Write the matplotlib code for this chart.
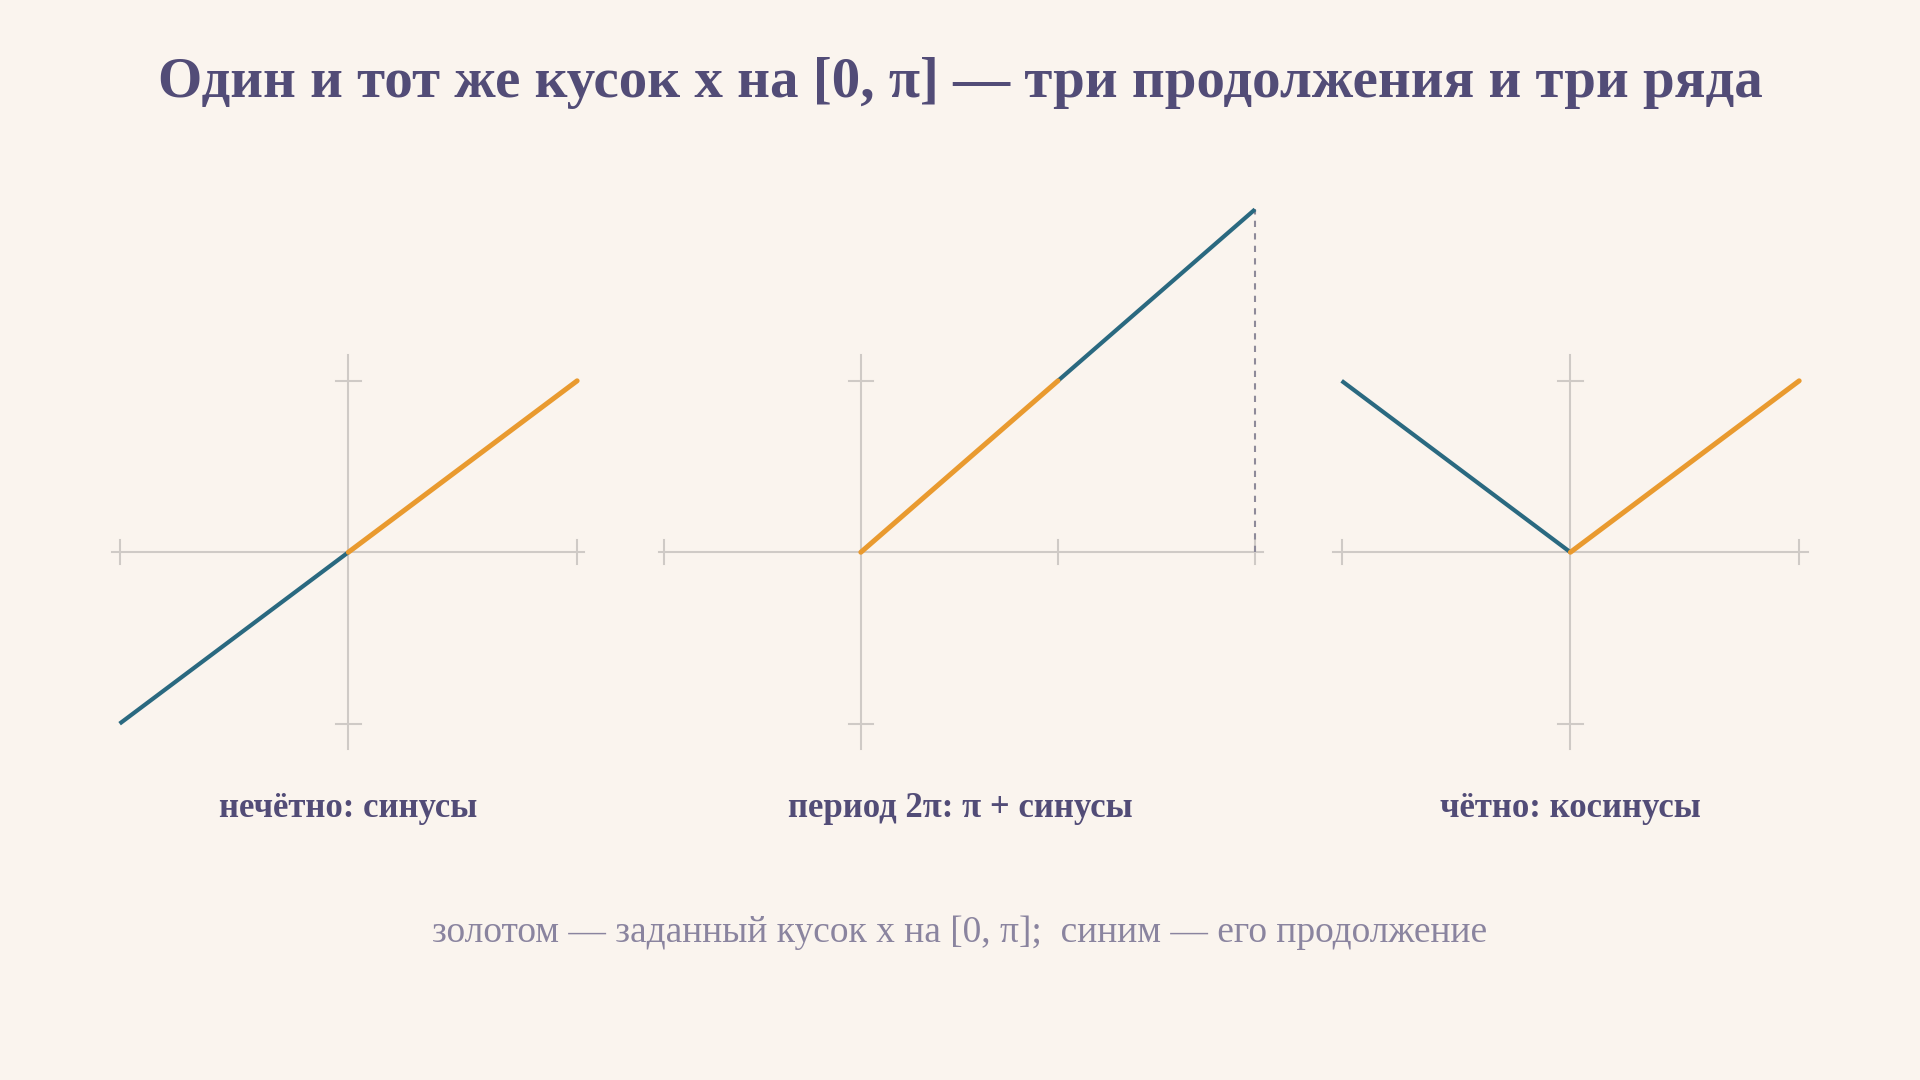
import numpy as np
import matplotlib
matplotlib.use("Agg")
import matplotlib.pyplot as plt

PI = np.pi
title = "Один и тот же кусок x на [0, π] — три продолжения и три ряда"
labels = ["нечётно: синусы", "период 2π: π + синусы", "чётно: косинусы"]
caption = "золотом — заданный кусок x на [0, π];  синим — его продолжение"

# given piece (gold) on [0, pi]
given_x = [0, PI]
given_y = [0, PI]
# extensions (blue)
odd_x = [-PI, 0]; odd_y = [-PI, 0]
per_x = [PI, 2 * PI]; per_y = [PI, 2 * PI]
even_x = [-PI, 0]; even_y = [PI, 0]

BG = "#FAF4EE"; GOLD = "#E99A2F"; BLUE = "#2A6980"; GRAY = "#CFCAC6"; INK = "#524C77"

plt.rcParams['font.family'] = ['Liberation Serif', 'DejaVu Serif']
fig = plt.figure(figsize=(19.2, 10.8), dpi=100, facecolor=BG)

ybot, ytop = -1.2 * PI, 2.1 * PI
axb, axh = 1 - 619 / 882, 462 / 882
panels = [
    dict(pos=[79 / 1568, axb, 411 / 1568, axh], xlim=(-1.1 * PI, 1.1 * PI), xax=(-1.032 * PI, 1.032 * PI),
         xt=[-PI, PI], ext=(odd_x, odd_y), dash=False),
    dict(pos=[526 / 1568, axb, 515 / 1568, axh], xlim=(-1.1 * PI, 2.1 * PI), xax=(-1.025 * PI, 2.04 * PI),
         xt=[-PI, PI, 2 * PI], ext=(per_x, per_y), dash=True),
    dict(pos=[1077 / 1568, axb, 411 / 1568, axh], xlim=(-1.1 * PI, 1.1 * PI), xax=(-1.04 * PI, 1.04 * PI),
         xt=[-PI, PI], ext=(even_x, even_y), dash=False),
]
for p, lab in zip(panels, labels):
    ax = fig.add_axes(p["pos"]); ax.set_axis_off()
    ax.set_xlim(*p["xlim"]); ax.set_ylim(ybot, ytop)
    ax.plot(p["xax"], [0, 0], color=GRAY, lw=1.5, zorder=1)
    ax.plot([0, 0], [-1.15 * PI, 1.15 * PI], color=GRAY, lw=1.5, zorder=1)
    for t in p["xt"]:
        ax.plot([t, t], [-0.07 * PI, 0.07 * PI], color=GRAY, lw=1.5, zorder=1)
    dx = 10 / (p["pos"][2] * 1568) * (p["xlim"][1] - p["xlim"][0])
    for t in [-PI, PI]:
        ax.plot([-dx, dx], [t, t], color=GRAY, lw=1.5, zorder=1)
    if p["dash"]:
        ax.plot([2 * PI, 2 * PI], [0, 2 * PI], color="#8E8A99", lw=1.5, ls=(0, (3, 3)), zorder=2)
    ax.plot(*p["ext"], color=BLUE, lw=3, solid_capstyle="butt", zorder=3)
    ax.plot(given_x, given_y, color=GOLD, lw=3.6, solid_capstyle="round", zorder=4)
    cx = p["pos"][0] + p["pos"][2] * (0 - p["xlim"][0]) / (p["xlim"][1] - p["xlim"][0])
    if p["dash"]:
        cx = 784 / 1568
    fig.text(cx, 1 - 660 / 882, lab, ha="center", va="center", fontsize=25, fontweight="bold", color=INK)

fig.text(0.5, 1 - 68 / 882, title, ha="center", va="center", fontsize=41, fontweight="bold", color=INK)
fig.text(0.5, 1 - 762 / 882, caption, ha="center", va="center", fontsize=27, color="#8A849F")
fig.savefig("out.png", dpi=100, facecolor=BG)
